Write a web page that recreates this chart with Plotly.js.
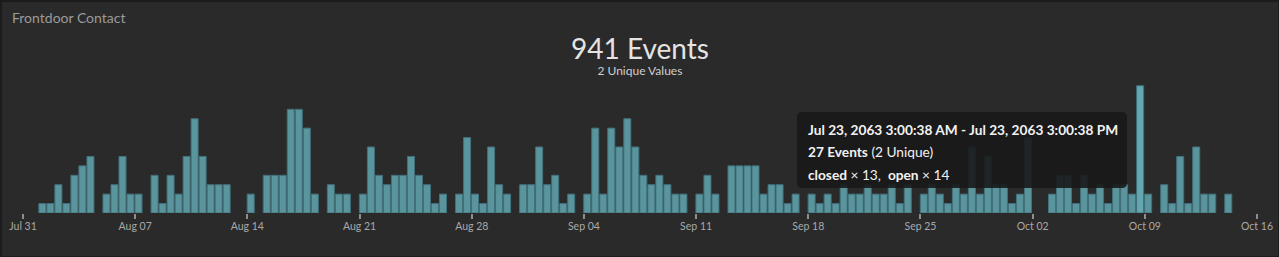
<!DOCTYPE html>
<html>
<head>
<meta charset="utf-8">
<script src="https://cdn.plot.ly/plotly-3.0.1.min.js"></script>
<style>
  html, body { margin: 0; padding: 0; background: #2a2a2a; overflow: hidden; }
  #wrap { position: relative; width: 1279px; height: 257px; }
  #chart { width: 1279px; height: 257px; }
  #frame { position: absolute; left: 0; top: 0; width: 1279px; height: 257px; box-sizing: border-box;
           border: 1px solid #1c1c1c; box-shadow: inset 1px 1px 1px rgba(0,0,0,0.35); pointer-events: none; }
</style>
</head>
<body>
<div id="wrap"><div id="chart"></div><div id="frame"></div></div>
<script>
// ---- data (12-hour bins starting Jul 31 00:00) ----
const binStart = '2023-07-31 00:00:00';
const binHours = 12;
const eventCounts = [
  0,0,2,2,6,2,8,10,12,0,
  4,6,12,4,4,0,8,2,8,4,
  12,20,12,6,6,6,0,0,4,0,
  8,8,8,22,22,18,4,0,6,4,
  4,0,4,14,8,6,8,8,12,8,
  6,2,4,0,4,16,4,2,14,6,
  4,0,6,6,14,6,8,2,4,0,
  4,18,4,18,14,20,14,8,6,8,
  6,4,4,0,4,8,4,0,10,10,
  10,10,4,6,6,2,4,0,4,2,
  4,2,6,4,4,6,4,4,6,2,
  6,0,4,6,4,2,6,4,14,4,
  12,6,6,2,4,16,0,0,4,8,
  8,2,8,4,6,2,6,6,4,27,
  4,0,6,2,12,2,14,4,4,0,
  4,0,0,0
];
const tickDates = ['2023-07-31','2023-08-07','2023-08-14','2023-08-21','2023-08-28','2023-09-04',
                   '2023-09-11','2023-09-18','2023-09-25','2023-10-02','2023-10-09','2023-10-16'];
const tickLabels = ['Jul 31','Aug 07','Aug 14','Aug 21','Aug 28','Sep 04',
                    'Sep 11','Sep 18','Sep 25','Oct 02','Oct 09','Oct 16'];
const chartTitle = 'Frontdoor Contact';
const headline = '941 Events';
const subline = '2 Unique Values';
const tipLines = [
  '<b>Jul 23, 2063 3:00:38 AM - Jul 23, 2063 3:00:38 PM</b>',
  '<b>27 Events</b> (2 Unique)',
  '<b>closed</b> \u00d7 13,\u00a0 <b>open</b> \u00d7 14'
];

// ---- build ----
function pad(n){ return (n < 10 ? '0' : '') + n; }
function fmt(ms){
  const d = new Date(ms);
  return d.getUTCFullYear() + '-' + pad(d.getUTCMonth()+1) + '-' + pad(d.getUTCDate()) + ' ' +
         pad(d.getUTCHours()) + ':' + pad(d.getUTCMinutes()) + ':' + pad(d.getUTCSeconds());
}
const t0 = Date.UTC(2023, 6, 31, 0, 0, 0);
const H = 3600 * 1000;
const xs = [], ys = [], cols = [];
const maxV = Math.max.apply(null, eventCounts);
eventCounts.forEach(function(v, i){
  xs.push(fmt(t0 + i * binHours * H + 5 * H));
  ys.push(v > 0 ? v : null);
  cols.push(v === maxV ? '#63a7b0' : '#5a959e');
});

const W = 1279, L = 23, R = 22, T = 80, B = 44;
const plotW = W - L - R, plotH = 257 - T - B, baseY = 257 - B;
function px(x){ return (x - L) / plotW; }
function py(y){ return (baseY - y) / plotH; }

// rounded tooltip box path in paper coords
function roundRect(x0, y0, x1, y1, r){
  const rx = r / plotW, ry = r / plotH;
  const X0 = px(x0), X1 = px(x1), Y0 = py(y0), Y1 = py(y1);
  return 'M' + (X0+rx) + ',' + Y0 + ' L' + (X1-rx) + ',' + Y0 +
         ' Q' + X1 + ',' + Y0 + ' ' + X1 + ',' + (Y0-ry) +
         ' L' + X1 + ',' + (Y1+ry) + ' Q' + X1 + ',' + Y1 + ' ' + (X1-rx) + ',' + Y1 +
         ' L' + (X0+rx) + ',' + Y1 + ' Q' + X0 + ',' + Y1 + ' ' + X0 + ',' + (Y1+ry) +
         ' L' + X0 + ',' + (Y0-ry) + ' Q' + X0 + ',' + Y0 + ' ' + (X0+rx) + ',' + Y0 + ' Z';
}

const font = 'Lato, "Open Sans", sans-serif';
const trace = {
  type: 'bar', x: xs, y: ys, width: 10.5 * H,
  marker: { color: cols, line: { color: '#42717a', width: 1 } },
  hoverinfo: 'skip'
};

const annotations = [
  { text: chartTitle, x: px(9.5), y: py(18), xref: 'paper', yref: 'paper', xanchor: 'left', yanchor: 'middle',
    showarrow: false, font: { family: font, size: 14, color: '#9a9a9a' } },
  { text: '<span style="font-size:28px;color:#e4e4e4">' + headline + '</span><br>' +
          '<span style="font-size:12px;color:#cfcfcf">' + subline + '</span>',
    x: px(640), y: py(55), xref: 'paper', yref: 'paper', xanchor: 'center', yanchor: 'middle', align: 'center',
    showarrow: false, borderpad: 0, font: { family: font, size: 12, color: '#e4e4e4' } }
];
const tipY = [129, 151.7, 174.3];
tipLines.forEach(function(t, i){
  annotations.push({ text: t, x: px(805.5), y: py(tipY[i]), xref: 'paper', yref: 'paper', xanchor: 'left', yanchor: 'middle',
    showarrow: false, font: { family: font, size: 13.7, color: '#f2f2f2' } });
});

const layout = {
  width: W, height: 257,
  margin: { l: L, r: R, t: T, b: B, pad: 0 },
  paper_bgcolor: '#2a2a2a', plot_bgcolor: '#2a2a2a',
  showlegend: false, bargap: 0,
  font: { family: font, color: '#a8a8a8' },
  xaxis: {
    type: 'date',
    range: [fmt(t0), fmt(Date.UTC(2023, 9, 16, 0, 0, 0))],
    tickmode: 'array', tickvals: tickDates, ticktext: tickLabels,
    ticks: 'outside', ticklen: 5, tickwidth: 2, tickcolor: '#8d8d8d',
    ticklabelstandoff: -2,
    tickfont: { family: font, size: 10.5, color: '#a8a8a8' },
    showgrid: false, zeroline: false, showline: false, fixedrange: true
  },
  yaxis: {
    range: [0, plotH / 4.714], visible: false, showgrid: false, zeroline: false, fixedrange: true
  },
  shapes: [
    { type: 'path', xref: 'paper', yref: 'paper', path: roundRect(797, 112, 1127, 188, 5),
      fillcolor: 'rgba(24,24,24,0.9)', line: { width: 0 }, layer: 'above' }
  ],
  annotations: annotations,
  hovermode: false
};

Plotly.newPlot('chart', [trace], layout, { staticPlot: true, displayModeBar: false });
</script>
</body>
</html>
